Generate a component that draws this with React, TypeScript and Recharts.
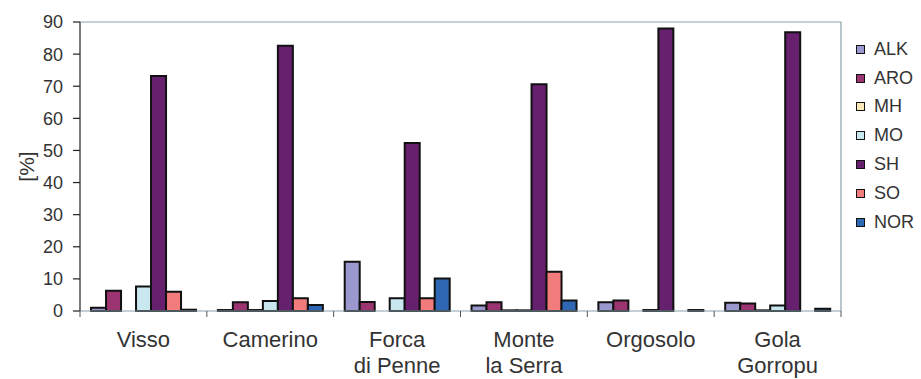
import React from 'react';
import { BarChart, Bar, XAxis, YAxis, ReferenceLine } from 'recharts';

// Sites (x categories) and their wrapped tick labels
const sites = ['Visso', 'Camerino', 'Forca di Penne', 'Monte la Serra', 'Orgosolo', 'Gola Gorropu'];
const siteLabelLines = [['Visso'], ['Camerino'], ['Forca', 'di Penne'], ['Monte', 'la Serra'], ['Orgosolo'], ['Gola', 'Gorropu']];

// Composition per site, in percent
const ALK = [1.0, 0.3, 15.3, 1.7, 2.7, 2.6];
const ARO = [6.3, 2.7, 2.8, 2.7, 3.3, 2.3];
const MH = [0, 0.3, 0, 0.2, 0, 0.2];
const MO = [7.6, 3.1, 4.0, 0.2, 0.3, 1.7];
const SH = [73.2, 82.6, 52.3, 70.6, 88.0, 86.8];
const SO = [6.0, 4.0, 4.0, 12.2, 0, 0];
const NOR = [0.4, 1.9, 10.1, 3.3, 0.3, 0.7];

const yTicks = [0, 10, 20, 30, 40, 50, 60, 70, 80, 90];

const seriesKeys = ['ALK', 'ARO', 'MH', 'MO', 'SH', 'SO', 'NOR'];
const seriesValues: Record<string, number[]> = { ALK, ARO, MH, MO, SH, SO, NOR };
const seriesColors: Record<string, string> = {
  ALK: '#9b98cf',
  ARO: '#9c3472',
  MH: '#fde8b8',
  MO: '#c8e7ef',
  SH: '#66206e',
  SO: '#f27c7c',
  NOR: '#2e68b4',
};

const data = sites.map((site, i) => {
  const row: Record<string, string | number> = { site };
  seriesKeys.forEach((k) => {
    row[k] = seriesValues[k][i];
  });
  return row;
});

const FONT = '"Liberation Sans", Arial, Helvetica, sans-serif';
const TEXT = '#333333';
const FRAME = '#8aa0ae';

const SiteTick = (props: any) => {
  const { x, y, payload } = props;
  const idx = sites.indexOf(payload.value);
  const half = payload.offset ?? 63.4;
  const lines = siteLabelLines[idx] || [payload.value];
  return (
    <g>
      <line x1={x - half} x2={x - half} y1={y} y2={y + 6} stroke="#555" strokeWidth={1} />
      {idx === sites.length - 1 && (
        <line x1={x + half} x2={x + half} y1={y} y2={y + 6} stroke="#555" strokeWidth={1} />
      )}
      <text x={x} y={y + 36} textAnchor="middle" fill={TEXT} fontSize={22} fontFamily={FONT}>
        {lines.map((l, i) => (
          <tspan key={i} x={x} dy={i === 0 ? 0 : 26}>
            {l}
          </tspan>
        ))}
      </text>
    </g>
  );
};

const AxisTitle = (props: any) => {
  const vb = props.viewBox || { x: 0, y: 22, width: 80, height: 289 };
  const cx = vb.x + 26;
  const cy = vb.y + vb.height / 2;
  return (
    <text
      x={cx}
      y={cy}
      transform={`rotate(-90 ${cx} ${cy})`}
      textAnchor="middle"
      dominantBaseline="central"
      fill={TEXT}
      fontSize={21}
      fontFamily={FONT}
    >
      [%]
    </text>
  );
};

const SeriesLegend = () => (
  <div
    style={{
      position: 'absolute',
      left: 856,
      top: 35,
      fontFamily: FONT,
      fontSize: 18,
      color: TEXT,
    }}
  >
    {seriesKeys.map((k) => (
      <div key={k} style={{ display: 'flex', alignItems: 'center', height: 28.8 }}>
        <span
          style={{
            display: 'inline-block',
            width: 7,
            height: 7,
            background: seriesColors[k],
            border: '1.5px solid #111',
            marginRight: 9,
          }}
        />
        <span>{k}</span>
      </div>
    ))}
  </div>
);

export default function App() {
  return (
    <div style={{ position: 'absolute', left: 0, top: 0, width: 921, height: 379, background: '#fff' }}>
      <BarChart
        width={921}
        height={379}
        data={data}
        margin={{ top: 22, right: 80, bottom: 0, left: 0 }}
        barCategoryGap="8.7%"
        barGap={0}
      >
        <XAxis
          dataKey="site"
          height={68}
          interval={0}
          tickLine={false}
          tickSize={0}
          tickMargin={0}
          axisLine={{ stroke: FRAME, strokeWidth: 1.2 }}
          tick={<SiteTick />}
        />
        <YAxis
          width={80}
          domain={[0, 90]}
          ticks={yTicks}
          interval={0}
          tickSize={7}
          tickMargin={10}
          axisLine={{ stroke: '#222', strokeWidth: 1.2 }}
          tickLine={{ stroke: '#222', strokeWidth: 1.2 }}
          tick={{ fill: TEXT, fontSize: 18, fontFamily: FONT }}
          label={{ content: <AxisTitle /> }}
        />
        {/* plot frame: top and right edges */}
        <ReferenceLine y={90} stroke={FRAME} strokeWidth={1.2} />
        <ReferenceLine x="Gola Gorropu" position="end" stroke={FRAME} strokeWidth={1.2} />
        {seriesKeys.map((k) => (
          <Bar
            key={k}
            dataKey={k}
            fill={seriesColors[k]}
            stroke="#111"
            strokeWidth={2}
            isAnimationActive={false}
          />
        ))}
      </BarChart>
      <SeriesLegend />
    </div>
  );
}
